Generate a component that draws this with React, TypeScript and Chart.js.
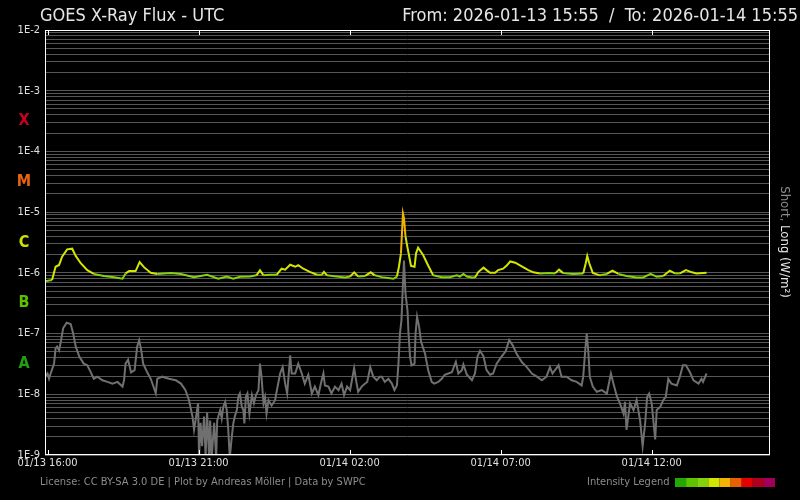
import { useEffect, useRef } from 'react';
import { Chart, registerables } from 'chart.js';

Chart.register(...registerables);

const FONT = "'DejaVu Sans Condensed', 'DejaVu Sans', sans-serif";

const TITLE = 'GOES X-Ray Flux - UTC';
const RANGE_TEXT = 'From: 2026-01-13 15:55  /  To: 2026-01-14 15:55';
const FOOTER = 'License: CC BY-SA 3.0 DE | Plot by Andreas Möller | Data by SWPC';
const LEGEND_TEXT = 'Intensity Legend';
const AXIS_SHORT = 'Short, ';
const AXIS_LONG = 'Long (W/m²)';

// x axis: minutes since 2026-01-13 15:55 UTC
const X_MIN = 0;
const X_MAX = 1440;
const xTickMinutes = [5, 305, 605, 905, 1205];
const xTickLabels = ['01/13 16:00', '01/13 21:00', '01/14 02:00', '01/14 07:00', '01/14 12:00'];

const Y_MIN = 1e-9;
const Y_MAX = 1e-2;

const classLetters = ['X', 'M', 'C', 'B', 'A'];
const classLevels = [10 ** -3.5, 10 ** -4.5, 10 ** -5.5, 10 ** -6.5, 10 ** -7.5];
const classColors = ['#c8001e', '#e86510', '#d2e000', '#5cbf00', '#1ea010'];

const legendColors = ['#22a800', '#5cc500', '#84d40a', '#d2e600', '#f2b400', '#ea6000', '#e40000', '#b0001e', '#a0005c'];
const fluxBins = [1e-7, 5e-7, 1e-6, 5e-6, 1e-5, 5e-5, 1e-4, 5e-4];

// Long channel (0.1-0.8 nm)
const longMinutes = [
  0, 14, 21, 28, 34, 44, 54, 61, 71, 84, 97, 117, 137, 154, 160, 167, 180, 188, 197, 210,
  223, 250, 270, 296, 322, 344, 361, 374, 387, 407, 420, 427, 434, 447, 460, 470, 477, 487, 497, 503,
  513, 526, 540, 550, 554, 560, 579, 596, 606, 614, 622, 636, 647, 655, 669, 682, 692, 699, 703, 707,
  711, 713, 716, 720, 727, 734, 737, 741, 751, 761, 771, 788, 804, 818, 824, 831, 838, 848, 854, 861,
  871, 877, 884, 894, 900, 910, 917, 924, 934, 947, 960, 970, 983, 1003, 1013, 1021, 1029, 1049, 1069, 1074,
  1077, 1081, 1088, 1102, 1116, 1127, 1139, 1155, 1175, 1188, 1203, 1215, 1228, 1241, 1251, 1261, 1273, 1285, 1294, 1314,
];
const longFlux = [
  7.3e-7, 7.6e-7, 1.26e-6, 1.35e-6, 1.85e-6, 2.44e-6, 2.5e-6, 1.9e-6, 1.44e-6, 1.11e-6, 9.6e-7, 8.9e-7, 8.5e-7, 8.0e-7, 9.8e-7, 1.07e-6, 1.07e-6, 1.5e-6, 1.23e-6, 1.0e-6,
  9.6e-7, 9.9e-7, 9.6e-7, 8.5e-7, 9.3e-7, 8.0e-7, 8.7e-7, 8.0e-7, 8.6e-7, 8.7e-7, 9.1e-7, 1.1e-6, 9.1e-7, 9.3e-7, 9.3e-7, 1.17e-6, 1.13e-6, 1.36e-6, 1.26e-6, 1.34e-6,
  1.17e-6, 1.04e-6, 9.3e-7, 9.3e-7, 1.04e-6, 9.1e-7, 8.7e-7, 8.4e-7, 8.7e-7, 1.02e-6, 8.7e-7, 8.9e-7, 1.02e-6, 9.1e-7, 8.5e-7, 8.2e-7, 8.0e-7, 8.7e-7, 1.26e-6, 2.1e-6,
  9.5e-6, 8.0e-6, 4.0e-6, 2.6e-6, 1.3e-6, 1.26e-6, 2.1e-6, 2.6e-6, 1.97e-6, 1.32e-6, 9.1e-7, 8.5e-7, 8.5e-7, 9.1e-7, 8.7e-7, 9.6e-7, 8.7e-7, 8.4e-7, 8.4e-7, 1.04e-6,
  1.22e-6, 1.11e-6, 1.0e-6, 1.0e-6, 1.11e-6, 1.17e-6, 1.32e-6, 1.54e-6, 1.47e-6, 1.28e-6, 1.11e-6, 1.02e-6, 9.8e-7, 9.9e-7, 9.8e-7, 1.13e-6, 9.9e-7, 9.6e-7, 9.8e-7, 1.44e-6,
  1.9e-6, 1.44e-6, 1.0e-6, 9.1e-7, 9.6e-7, 1.09e-6, 9.6e-7, 8.9e-7, 8.4e-7, 8.4e-7, 9.6e-7, 8.6e-7, 8.9e-7, 1.09e-6, 9.8e-7, 9.8e-7, 1.11e-6, 1.02e-6, 9.8e-7, 1.0e-6,
];

// Short channel (0.05-0.4 nm)
const shortMinutes = [
  0, 5, 8, 12, 18, 21, 24, 28, 32, 36, 43, 51, 56, 61, 68, 77, 84, 91, 97, 104,
  114, 124, 134, 144, 154, 157, 160, 165, 171, 178, 183, 187, 191, 195, 203, 210, 220, 223, 233, 246,
  260, 270, 279, 286, 293, 296, 299, 304, 306, 309, 312, 316, 319, 322, 326, 328, 331, 336, 340, 342,
  348, 351, 354, 358, 361, 364, 367, 371, 374, 377, 381, 384, 387, 391, 394, 396, 399, 402, 406, 411,
  415, 419, 424, 427, 430, 434, 437, 440, 444, 450, 457, 460, 467, 472, 477, 481, 487, 490, 497, 503,
  510, 516, 523, 530, 536, 543, 548, 553, 556, 563, 569, 576, 583, 589, 594, 600, 606, 614, 619, 622,
  629, 636, 640, 646, 652, 659, 665, 669, 675, 682, 689, 694, 699, 702, 705, 708, 711, 713, 716, 720,
  722, 725, 728, 734, 736, 739, 743, 747, 755, 761, 768, 773, 781, 788, 794, 801, 808, 816, 821, 828,
  831, 838, 848, 854, 859, 864, 871, 877, 884, 890, 897, 907, 915, 922, 929, 937, 947, 957, 967, 977,
  987, 996, 1003, 1008, 1020, 1026, 1036, 1046, 1056, 1066, 1069, 1073, 1076, 1079, 1082, 1088, 1096, 1106, 1116, 1124,
  1129, 1136, 1142, 1149, 1152, 1155, 1162, 1169, 1175, 1182, 1187, 1192, 1196, 1200, 1205, 1212, 1215, 1222, 1228, 1233,
  1238, 1244, 1255, 1261, 1267, 1273, 1281, 1288, 1298, 1304, 1307, 1314,
];
const shortFlux = [
  1.95e-8, 2.2e-8, 1.8e-8, 2.3e-8, 3.2e-8, 5.7e-8, 6.1e-8, 5.3e-8, 7.8e-8, 1.22e-7, 1.51e-7, 1.44e-7, 1.0e-7, 6.1e-8, 4.2e-8, 3.2e-8, 3.0e-8, 2.3e-8, 1.8e-8, 1.95e-8,
  1.7e-8, 1.6e-8, 1.5e-8, 1.6e-8, 1.34e-8, 1.7e-8, 3.2e-8, 3.7e-8, 2.3e-8, 2.5e-8, 6.1e-8, 7.8e-8, 5.4e-8, 3.2e-8, 2.3e-8, 1.8e-8, 1.04e-8, 1.8e-8, 1.95e-8, 1.8e-8,
  1.7e-8, 1.5e-8, 1.17e-8, 8.0e-9, 4.3e-9, 2.6e-9, 3.7e-9, 7.1e-9, 9e-10, 3.4e-9, 1.4e-9, 4.3e-9, 9e-10, 5.0e-9, 9e-10, 3.7e-9, 9e-10, 3.4e-9, 9e-10, 3.7e-9,
  5.5e-9, 4.0e-9, 6.2e-9, 7.5e-9, 5.5e-9, 2.6e-9, 9e-10, 2.0e-9, 3.3e-9, 4.3e-9, 5.5e-9, 9.1e-9, 1.03e-8, 6.2e-9, 5.5e-9, 3.3e-9, 9.1e-9, 1.03e-8, 4.8e-9, 9.7e-9,
  7.1e-9, 9.7e-9, 1.17e-8, 3.2e-8, 1.95e-8, 7.1e-9, 9.0e-9, 4.8e-9, 8.0e-9, 6.5e-9, 8.0e-9, 1.1e-8, 2.2e-8, 2.8e-8, 1.5e-8, 1.03e-8, 4.4e-8, 2.2e-8, 2.2e-8, 3.2e-8,
  2.2e-8, 1.5e-8, 2.1e-8, 1.03e-8, 1.34e-8, 9.7e-9, 1.5e-8, 2.2e-8, 1.4e-8, 1.34e-8, 1.03e-8, 1.34e-8, 1.17e-8, 1.5e-8, 9.7e-9, 1.34e-8, 1.17e-8, 2.7e-8, 1.5e-8, 1.1e-8,
  1.34e-8, 1.5e-8, 1.6e-8, 2.8e-8, 1.95e-8, 1.7e-8, 1.95e-8, 1.95e-8, 1.6e-8, 1.8e-8, 1.5e-8, 1.17e-8, 1.4e-8, 3.2e-8, 1.0e-7, 1.67e-7, 6.7e-7, 1.6e-6, 4.6e-7, 2.4e-7,
  1.0e-7, 4.2e-8, 3.0e-8, 3.2e-8, 1.0e-7, 1.9e-7, 1.3e-7, 7.3e-8, 4.6e-8, 2.5e-8, 1.6e-8, 1.5e-8, 1.6e-8, 1.8e-8, 2.1e-8, 2.2e-8, 2.3e-8, 3.4e-8, 2.2e-8, 2.5e-8,
  3.1e-8, 2.1e-8, 1.7e-8, 2.2e-8, 4.2e-8, 5.2e-8, 4.2e-8, 2.5e-8, 2.1e-8, 2.2e-8, 3.2e-8, 4.2e-8, 5.1e-8, 7.8e-8, 6.4e-8, 4.6e-8, 3.4e-8, 2.8e-8, 2.2e-8, 1.95e-8,
  1.7e-8, 1.95e-8, 2.8e-8, 2.2e-8, 3.0e-8, 1.95e-8, 1.95e-8, 1.7e-8, 1.6e-8, 1.4e-8, 1.95e-8, 5.3e-8, 1.0e-7, 5.3e-8, 1.95e-8, 1.34e-8, 1.1e-8, 1.17e-8, 1.03e-8, 2.2e-8,
  1.5e-8, 9.1e-9, 7.1e-9, 4.8e-9, 7.5e-9, 2.6e-9, 7.1e-9, 5.5e-9, 8.0e-9, 3.7e-9, 1.4e-9, 3.3e-9, 9.1e-9, 1.03e-8, 7.1e-9, 1.8e-9, 5.5e-9, 6.2e-9, 8.0e-9, 9.1e-9,
  1.8e-8, 1.5e-8, 1.4e-8, 1.95e-8, 3.0e-8, 3.0e-8, 2.3e-8, 1.7e-8, 1.5e-8, 1.8e-8, 1.6e-8, 2.2e-8,
];

function fluxColor(v: number): string {
  let i = 0;
  while (i < fluxBins.length && v >= fluxBins[i]) i++;
  return legendColors[i];
}

function logTicks() {
  const out: { value: number }[] = [];
  for (let e = -9; e < -2; e++) {
    for (let m = 1; m <= 9; m++) out.push({ value: Number(`${m}e${e}`) });
  }
  out.push({ value: 1e-2 });
  return out;
}

const decor = {
  id: 'decor',
  beforeDraw(chart: any) {
    const { ctx } = chart;
    ctx.save();
    ctx.fillStyle = '#000';
    ctx.fillRect(0, 0, chart.width, chart.height);
    ctx.restore();
  },
  afterDraw(chart: any) {
    const { ctx, chartArea: a, scales } = chart;
    ctx.save();
    // frame
    ctx.strokeStyle = '#ffffff';
    ctx.lineWidth = 1;
    ctx.strokeRect(a.left + 0.5, a.top + 0.5, a.right - a.left - 1, a.bottom - a.top - 1);
    // time tick marks inside the frame
    ctx.beginPath();
    for (const t of xTickMinutes) {
      const px = Math.round(scales.x.getPixelForValue(t)) + 0.5;
      ctx.moveTo(px, a.top);
      ctx.lineTo(px, a.top + 5);
      ctx.moveTo(px, a.bottom);
      ctx.lineTo(px, a.bottom - 5);
    }
    ctx.stroke();

    // flare classes
    ctx.font = `bold 16px ${FONT}`;
    ctx.textAlign = 'center';
    ctx.textBaseline = 'middle';
    classLetters.forEach((c, i) => {
      ctx.fillStyle = classColors[i];
      ctx.fillText(c, 24, scales.y.getPixelForValue(classLevels[i]));
    });

    // header
    ctx.font = `18px ${FONT}`;
    ctx.fillStyle = '#e6e6e6';
    ctx.textBaseline = 'alphabetic';
    ctx.textAlign = 'left';
    ctx.fillText(TITLE, 40, 21);
    ctx.textAlign = 'right';
    ctx.fillText(RANGE_TEXT, 798, 21);

    // footer
    ctx.font = `11px ${FONT}`;
    ctx.fillStyle = '#8c8c8c';
    ctx.textAlign = 'left';
    ctx.textBaseline = 'middle';
    ctx.fillText(FOOTER, 40, 482);
    ctx.fillText(LEGEND_TEXT, 587, 482);
    legendColors.forEach((c, i) => {
      ctx.fillStyle = c;
      ctx.fillRect(675 + i * 11.1, 478, 11.2, 9);
    });

    // right axis label (rotated)
    ctx.font = `13px ${FONT}`;
    ctx.translate(784, 242);
    ctx.rotate(Math.PI / 2);
    const w1 = ctx.measureText(AXIS_SHORT).width;
    const w2 = ctx.measureText(AXIS_LONG).width;
    const start = -(w1 + w2) / 2;
    ctx.textAlign = 'left';
    ctx.fillStyle = '#8c8c8c';
    ctx.fillText(AXIS_SHORT, start, 0);
    ctx.fillStyle = '#e6e6e6';
    ctx.fillText(AXIS_LONG, start + w1, 0);
    ctx.restore();
  },
};

export default function App() {
  const ref = useRef<HTMLCanvasElement | null>(null);
  useEffect(() => {
    const canvas = ref.current;
    if (!canvas) return;
    const chart = new Chart(canvas, {
      type: 'line',
      data: {
        datasets: [
          {
            label: 'Short',
            data: shortMinutes.map((m, i) => ({ x: m, y: shortFlux[i] })),
            borderColor: '#707070',
            borderWidth: 2,
            pointRadius: 0,
            tension: 0,
            order: 2,
          },
          {
            label: 'Long',
            data: longMinutes.map((m, i) => ({ x: m, y: longFlux[i] })),
            borderColor: '#d2e600',
            borderWidth: 2,
            pointRadius: 0,
            tension: 0,
            order: 1,
            segment: {
              borderColor: (c: any) => fluxColor(Math.max(c.p0.parsed.y, c.p1.parsed.y)),
            },
          },
        ],
      },
      options: {
        responsive: false,
        animation: false,
        devicePixelRatio: 1,
        layout: { padding: { left: 0, right: 30, top: 30, bottom: 0 } },
        plugins: {
          legend: { display: false },
          tooltip: { enabled: false },
          title: { display: false },
        },
        scales: {
          x: {
            type: 'linear',
            min: X_MIN,
            max: X_MAX,
            afterBuildTicks: (s: any) => {
              s.ticks = xTickMinutes.map((v) => ({ value: v }));
            },
            afterFit: (s: any) => {
              s.height = 45;
            },
            ticks: {
              autoSkip: false,
              maxRotation: 0,
              minRotation: 0,
              padding: 2,
              color: '#e0e0e0',
              font: { family: FONT, size: 11 },
              callback: (v: any) => {
                const i = xTickMinutes.indexOf(Number(v));
                return i >= 0 ? xTickLabels[i] : '';
              },
            },
            grid: { display: false, drawTicks: false, drawOnChartArea: false },
            border: { display: false },
          },
          y: {
            type: 'logarithmic',
            min: Y_MIN,
            max: Y_MAX,
            afterBuildTicks: (s: any) => {
              s.ticks = logTicks();
            },
            afterFit: (s: any) => {
              s.width = 45;
            },
            ticks: {
              autoSkip: false,
              padding: 5,
              color: '#e0e0e0',
              font: { family: FONT, size: 11 },
              callback: (v: any) => {
                const e = Math.log10(Number(v));
                const r = Math.round(e);
                return Math.abs(e - r) < 1e-6 ? `1E${r}` : '';
              },
            },
            grid: { color: '#575757', lineWidth: 1, drawTicks: false },
            border: { display: false },
          },
        },
      },
      plugins: [decor],
    } as any);
    return () => chart.destroy();
  }, []);

  return (
    <div style={{ position: 'fixed', left: 0, top: 0, width: 800, height: 500, background: '#000' }}>
      <canvas ref={ref} width={800} height={500} style={{ display: 'block', width: 800, height: 500 }} />
    </div>
  );
}
